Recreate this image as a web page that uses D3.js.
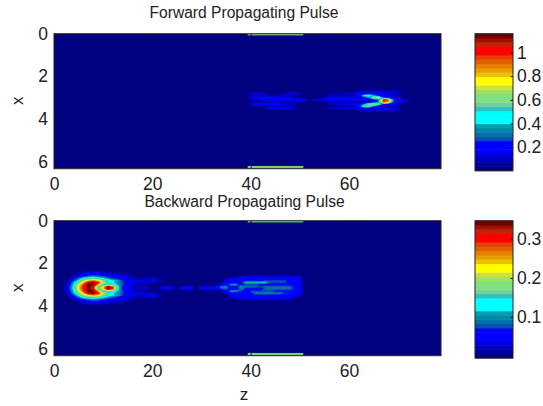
<!DOCTYPE html>
<html><head><meta charset="utf-8">
<script src="https://cdnjs.cloudflare.com/ajax/libs/d3/7.8.5/d3.min.js"></script>
<style>
html,body{margin:0;padding:0;background:#fff}
svg{display:block}
text{font-family:"Liberation Sans",Arial,sans-serif;fill:#222}
.tick text{font-size:17.5px;fill:#222}
.domain{stroke:none}
.tick line{stroke:#111}
</style></head><body>
<svg id="c" width="543" height="406"></svg>
<script>
// Colormap, bottom to top
const bandColors = ["#000080","#000098","#0000b8","#0000d8","#0000ff","#0000ff","#0000ff","#0050b0",
  "#0070a8","#0088a8","#00a0b0","#00ffff","#00ffff","#00ffff","#30c0c0","#70d0a0",
  "#80e080","#80e080","#a0e060","#d0e040","#ffff00","#ffff00","#f0c000","#e8a000",
  "#e88000","#e06000","#e84000","#ff0000","#ff0000","#c82000","#a01000","#700000"];

const zTicks = [0,20,40,60];
const xTicks = [0,2,4,6];
const forwardBarTicks = [0.2,0.4,0.6,0.8,1];
const backwardBarTicks = [0.1,0.2,0.3];
const zDomain = [0,78.7];
const xDomain = [0,6.33];
const wallZ = [39.4,50.7];
const wallX = [[0,0.08],[6.2,6.33]];
const wallColor = "#70d080";

// Field levels (base-32, 0..v = 0..31 of the colour range).
// Each string is one row of x, each char one unit of z; groups of ten for readability.
const forwardPeak = 1.16;
const forwardFirstZ = 30, forwardFirstX = 27;
const forwardRows = [
 "0000000000 0000000000 0000000000 0033333333 3",
 "0000000000 3442000344 3000002233 3344444444 3",
 "0000000000 2222222211 1000012222 225cea5332 2",
 "0000000000 4555554442 2000034445 55568il854 3",
 "0000000000 2236666666 6514445555 5555557sp8 543",
 "0000000000 1112222222 2101112222 2222239qn7 432",
 "0000000000 4555555333 0000003344 4448fjf644 3",
 "0000000000 1222222221 0000001122 226eg84332 2",
 "0000000000 0003555553 0000003344 4444444444 3",
 "0000000000 0000000000 0000000000 0033333333 3"
];
const backwardPeak = 0.347;
const backwardFirstZ = 0, backwardFirstX = 24;
const backwardRows = [
 "0000012333 2210000000",
 "0000124555 4433220000 0000000000 0000000000 0000000000 0",
 "0000256898 7654432000 0000000000 0000000033 3333333333 3",
 "000158cdec b975432223 3200000000 0000004444 5555555555 4",
 "00037cilnl hdba754333 3320000000 0000044446 6667777755 5",
 "0004agmtvr jdb9754333 3200000000 000004556b bbbb777766 5",
 "0015bjqvun dgea753220 0000000000 000055aa67 7766666666 5",
 "0016clrvsd lvqc663233 0044404440 44449a45a8 8878888886 5",
 "0016clrvsd lvqc663233 0044404440 4444784496 6558888886 5",
 "0015bjqvun dgea753220 0000000000 000005aa76 7777766665 5",
 "0004agmtvr jdb9754333 3200000000 0000055567 6999999775 5",
 "00037cilnl hdba754333 3320000000 0000004444 6666655544 4",
 "000158cdec b975432223 3200000000 0000004444 4444444443",
 "0000256898 7654432000 0000000000 0000000033 3333333330",
 "0000124555 4433220000",
 "0000012333 2210000000"
];

const svg = d3.select("#c");
const nz = 80, nx = 64;

function fieldGrid(rows, firstZ, firstX, peak){
  const g = new Float64Array(nz*nx);
  rows.forEach((r,j)=>{
    [...r.replace(/ /g,"")].forEach((ch,i)=>{
      g[(firstX+j)*nz + firstZ+i] = parseInt(ch,32)/31*peak;
    });
  });
  return g;
}

function panel(o){
  const zs = d3.scaleLinear().domain(zDomain).range([54,441]);
  const xs = d3.scaleLinear().domain(xDomain).range([o.top,o.top+135]);
  const g = svg.append("g");
  const id = "clip"+Math.round(o.top);
  g.append("clipPath").attr("id",id).append("rect")
    .attr("x",54).attr("y",o.top).attr("width",387).attr("height",135);
  const body = g.append("g").attr("clip-path",`url(#${id})`);
  body.append("rect").attr("x",54).attr("y",o.top).attr("width",387).attr("height",135).attr("fill",bandColors[0]);

  const grid = fieldGrid(o.rows,o.firstZ,o.firstX,o.peak);
  const thresholds = d3.range(1,32).map(i=>i/32*o.peak);
  const contours = d3.contours().size([nz,nx]).thresholds(thresholds).smooth(true)(grid);
  const path = d3.geoPath(d3.geoTransform({point(a,b){
    this.stream.point(zs(a-0.5),xs((b-0.5)*0.1));
  }}));
  body.selectAll("path.f").data(contours).join("path").attr("class","f")
    .attr("d",path).attr("fill",(d,i)=>bandColors[i+1]).attr("stroke","none");

  body.selectAll("rect.wall").data(wallX).join("rect").attr("class","wall")
    .attr("x",zs(wallZ[0])).attr("width",zs(wallZ[1])-zs(wallZ[0]))
    .attr("y",d=>xs(d[0])).attr("height",d=>xs(d[1])-xs(d[0])).attr("fill",wallColor);

  g.append("g").attr("transform",`translate(0,${o.top+135})`)
    .call(d3.axisBottom(zs).tickValues(zTicks).tickSizeInner(-2.5).tickSizeOuter(0).tickPadding(9).tickFormat(d3.format("d")));
  g.append("g").attr("transform",`translate(0,${o.top})`)
    .call(d3.axisTop(zs).tickValues(zTicks).tickSizeInner(-2.5).tickSizeOuter(0).tickFormat(""));
  g.append("g").attr("transform",`translate(54,0)`)
    .call(d3.axisLeft(xs).tickValues(xTicks).tickSizeInner(-2.5).tickSizeOuter(0).tickPadding(6).tickFormat(d3.format("d")));
  g.append("g").attr("transform",`translate(441,0)`)
    .call(d3.axisRight(xs).tickValues(xTicks).tickSizeInner(-2.5).tickSizeOuter(0).tickFormat(""));
  g.append("rect").attr("x",54).attr("y",o.top).attr("width",387).attr("height",135)
    .attr("fill","none").attr("stroke","#222").attr("stroke-width",1);

  g.append("text").attr("x",o.titleX).attr("y",o.titleY).attr("text-anchor","middle")
    .attr("font-size",15.6).text(o.title);
  g.append("text").attr("transform",`translate(23,${o.top+67}) rotate(-90)`)
    .attr("text-anchor","middle").attr("font-size",17).text("x");

  // colour bar
  const bar = g.append("g");
  const bands = d3.scaleBand().domain(d3.range(bandColors.length)).range([o.barBottom,o.top]);
  bar.selectAll("rect").data(bandColors).join("rect")
    .attr("x",475).attr("width",38)
    .attr("y",(d,i)=>bands(i)).attr("height",bands.bandwidth()+0.5).attr("fill",d=>d);
  const bs = d3.scaleLinear().domain(o.barDomain).range([o.barBottom,o.top]);
  bar.append("g").attr("transform","translate(513,0)")
    .call(d3.axisRight(bs).tickValues(o.barTicks).tickSizeInner(-2.5).tickSizeOuter(0).tickPadding(4).tickFormat(d=>String(d)));
  bar.append("rect").attr("x",475).attr("y",o.top).attr("width",38).attr("height",o.barBottom-o.top)
    .attr("fill","none").attr("stroke","#222");
}

panel({top:33.7,rows:forwardRows,firstZ:forwardFirstZ,firstX:forwardFirstX,peak:forwardPeak,
  title:"Forward Propagating Pulse",titleX:244,titleY:18,barBottom:170.7,barDomain:[0,1.16],barTicks:forwardBarTicks});
panel({top:220.7,rows:backwardRows,firstZ:backwardFirstZ,firstX:backwardFirstX,peak:backwardPeak,
  title:"Backward Propagating Pulse",titleX:244.5,titleY:207,barBottom:358,barDomain:[-0.006,0.347],barTicks:backwardBarTicks});

svg.append("text").attr("x",244).attr("y",400).attr("text-anchor","middle").attr("font-size",17).text("z");
</script>
</body></html>
